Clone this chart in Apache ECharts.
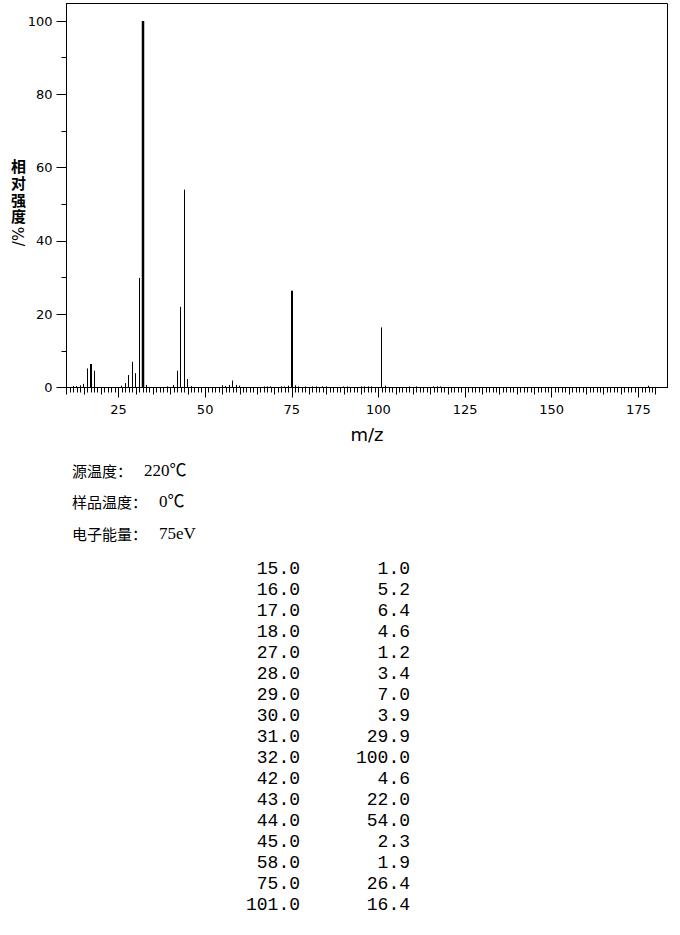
<!DOCTYPE html>
<html><head><meta charset="utf-8">
<script src="https://cdn.jsdelivr.net/npm/echarts@6/dist/echarts.min.js"></script>
<style>html,body{margin:0;padding:0;background:#fff;}#c{width:680px;height:935px;}</style>
</head><body><div id="c"></div>
<script>
// ---- data ----
const peakMz = [12, 13, 14, 15, 16, 17, 18, 26, 27, 28, 29, 30, 31, 32, 33, 39, 41, 42, 43, 44, 45, 46,
  55, 56, 57, 58, 59, 60, 67, 68, 69, 72, 73, 74, 75, 76, 77, 79, 81, 82, 84, 85, 90, 91,
  95, 96, 97, 98, 101, 102, 109, 111, 116, 117, 118, 178];
const peakIntensity = [0.4, 0.4, 0.6, 1.0, 5.2, 6.4, 4.6, 0.5, 1.2, 3.4, 7.0, 3.9, 29.9, 100.0, 0.7, 0.3, 0.7, 4.6, 22.0, 54.0, 2.3, 0.4,
  0.6, 0.4, 0.7, 1.9, 0.7, 0.5, 0.3, 0.3, 0.3, 0.3, 0.3, 0.5, 26.4, 0.6, 0.3, 0.3, 0.3, 0.3, 0.3, 0.3, 0.3, 0.3,
  0.3, 0.3, 0.3, 0.3, 16.4, 0.5, 0.3, 0.3, 0.3, 0.3, 0.3, 0.5];
const xLabelValues = [25, 50, 75, 100, 125, 150, 175];
const yLabelValues = [0, 20, 40, 60, 80, 100];
const yMinorTickValues = [10, 30, 50, 70, 90];
const yAxisTitle = ['相', '对', '强', '度'];
const yAxisUnit = '/%';
const xAxisTitle = 'm/z';
const infoLabels = ['源温度：', '样品温度：', '电子能量：'];
const infoValues = ['220℃', '0℃', '75eV'];
const tableThreshold = 1.0;

// ---- layout / style ----
const X_MIN = 10, X_MAX = 183.4, Y_MAX = 104.8;
const TICK_FROM = 10, TICK_TO = 180;
const thickPeaks = {17: 2, 32: 2.5, 75: 2};
const INFO_FONT = 15, INFO_GAP = 12;

const unitTicks = [], fiveTicks = [];
for (let v = TICK_FROM; v <= TICK_TO; v++) { unitTicks.push(v); if (v % 5 === 0) fiveTicks.push(v); }

const peaks = peakMz.map((m, i) => [m, peakIntensity[i]]);
const tableRows = peaks.filter(p => p[1] >= tableThreshold);

const chart = echarts.init(document.getElementById('c'), null, {renderer: 'svg'});

const black = '#000';
const baseX = {
  type: 'value', min: X_MIN, max: X_MAX, position: 'bottom', gridIndex: 0,
  splitLine: {show: false}, axisLine: {show: false, onZero: false},
  axisLabel: {show: false}
};
const baseY = {
  type: 'value', min: 0, max: Y_MAX, position: 'left', gridIndex: 0,
  splitLine: {show: false}, axisLine: {show: false, onZero: false},
  axisLabel: {show: false}
};

const graphics = [];
// y-axis title stacked vertically
yAxisTitle.forEach((ch, i) => {
  graphics.push({
    type: 'text', x: 18.5, y: 165.5 + i * 16.8,
    style: {text: ch, fill: black, font: 'bold 15px "Noto Sans CJK SC"', textAlign: 'center', textVerticalAlign: 'middle'}
  });
});
graphics.push({
  type: 'text', x: 18.5, y: 236.5, rotation: Math.PI / 2,
  style: {text: yAxisUnit, fill: black, font: '15px "DejaVu Sans"', textAlign: 'center', textVerticalAlign: 'middle'}
});
// info lines
infoLabels.forEach((lab, i) => {
  const y = 470 + i * 31.7;
  graphics.push({
    type: 'text', x: 72, y: y,
    style: {text: lab, fill: black, font: INFO_FONT + 'px "Noto Sans CJK SC"', textAlign: 'left', textVerticalAlign: 'middle'}
  });
  graphics.push({
    type: 'text', x: 72 + lab.length * INFO_FONT + INFO_GAP, y: y,
    style: {text: infoValues[i], fill: black, font: '17px "Liberation Serif", "Noto Sans CJK SC"', textAlign: 'left', textVerticalAlign: 'middle'}
  });
});
// peak table
tableRows.forEach((r, i) => {
  const y = 568.5 + i * 21.06;
  graphics.push({type: 'text', x: 300, y: y,
    style: {text: r[0].toFixed(1), fill: black, font: '18px "Liberation Mono"', textAlign: 'right', textVerticalAlign: 'middle'}});
  graphics.push({type: 'text', x: 410, y: y,
    style: {text: r[1].toFixed(1), fill: black, font: '18px "Liberation Mono"', textAlign: 'right', textVerticalAlign: 'middle'}});
});

chart.setOption({
  animation: false,
  backgroundColor: '#fff',
  grid: {left: 66.5, top: 3.5, right: 12.5, bottom: 547.5, show: true, borderColor: black, borderWidth: 1, backgroundColor: 'transparent'},
  xAxis: [
    Object.assign({}, baseX, {
      axisLine: {show: true, onZero: false, lineStyle: {color: black, width: 1}},
      axisTick: {show: true, customValues: xLabelValues, length: 10, lineStyle: {color: black, width: 1}},
      axisLabel: {show: true, customValues: xLabelValues, margin: 15, color: black, fontSize: 13, fontFamily: 'DejaVu Sans'},
      name: xAxisTitle, nameLocation: 'middle', nameGap: 38,
      nameTextStyle: {color: black, fontSize: 18, fontFamily: 'DejaVu Sans'}
    }),
    Object.assign({}, baseX, {axisTick: {show: true, customValues: unitTicks, length: 5, lineStyle: {color: black, width: 1}}}),
    Object.assign({}, baseX, {axisTick: {show: true, customValues: fiveTicks, length: 7, lineStyle: {color: black, width: 1}}})
  ],
  yAxis: [
    Object.assign({}, baseY, {
      axisLine: {show: true, onZero: false, lineStyle: {color: black, width: 1}},
      axisTick: {show: true, customValues: yLabelValues, length: 10, lineStyle: {color: black, width: 1}},
      axisLabel: {show: true, customValues: yLabelValues, margin: 14, color: black, fontSize: 13, fontFamily: 'DejaVu Sans'}
    }),
    Object.assign({}, baseY, {axisTick: {show: true, customValues: yMinorTickValues, length: 5, lineStyle: {color: black, width: 1}}})
  ],
  series: [{
    type: 'custom', xAxisIndex: 0, yAxisIndex: 0, data: peaks, clip: true,
    encode: {x: 0, y: 1},
    renderItem: function (params, api) {
      const m = api.value(0), v = api.value(1);
      const p0 = api.coord([m, 0]), p1 = api.coord([m, v]);
      const w = thickPeaks[m] || 1;
      const x = w % 2 === 1 ? Math.round(p0[0] - 0.5) + 0.5 : Math.round(p0[0]);
      return {type: 'line', shape: {x1: x, y1: p0[1], x2: x, y2: p1[1]}, style: {stroke: black, lineWidth: w}};
    }
  }],
  graphic: graphics
});
</script></body></html>
